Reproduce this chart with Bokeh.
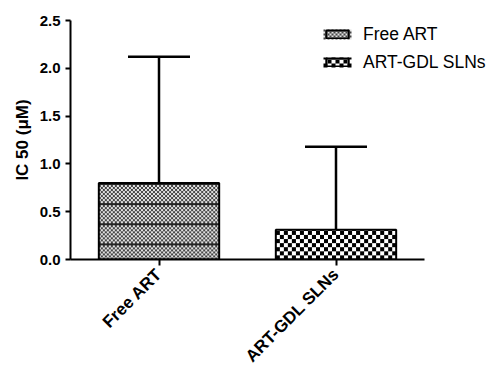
import math
import numpy as np
from bokeh.plotting import figure
from bokeh.models import (ColumnDataSource, Whisker, TeeHead, Legend, LegendItem,
                          FixedTicker, NumeralTickFormatter, Range1d)
from bokeh.embed import file_html
from bokeh.resources import INLINE

categories = ["Free ART", "ART-GDL SLNs"]
means = [0.80, 0.31]
errors = [1.32, 0.87]
y_ticks = [0.0, 0.5, 1.0, 1.5, 2.0, 2.5]

xpos = [i + 0.5 for i in range(len(categories))]
upper = [m + e for m, e in zip(means, errors)]
BAR_W = 0.68

# layout constants (pixels)
FRAME_W_PER_UNIT = 177.0
FRAME_H = 239.0
Y_MAX = 2.5
PX_Y = FRAME_H / Y_MAX


def fine_pattern(h, w, line_offset=14, line_step=20):
    img = np.zeros((h, w, 4), dtype=np.uint8)
    img[..., 3] = 255
    for b in range(h):
        for x in range(w):
            if (b - line_offset) % line_step in (0, 1):
                c = 35
            elif ((x // 2) + (b // 2)) % 2 == 0:
                c = 70
            else:
                c = 225
            img[b, x, :3] = c
    return img.view(np.uint32).reshape(h, w)


def coarse_pattern(h, w, cell=4):
    img = np.zeros((h, w, 4), dtype=np.uint8)
    img[..., 3] = 255
    for b in range(h):
        for x in range(w):
            c = 0 if ((x // cell) + (b // cell)) % 2 == 0 else 255
            img[b, x, :3] = c
    return img.view(np.uint32).reshape(h, w)


patterns = [fine_pattern, coarse_pattern]

FONT = "Liberation Sans"

p = figure(x_range=Range1d(0, 429 / FRAME_W_PER_UNIT), y_range=(0, Y_MAX),
           width=499, height=376, output_backend="svg", toolbar_location=None,
           min_border_left=70, min_border_top=20, min_border_bottom=117,
           min_border_right=0)

# textured fills of the bars
for i, (x, m) in enumerate(zip(xpos, means)):
    wpx = int(round(BAR_W * FRAME_W_PER_UNIT))
    hpx = max(1, int(round(m * PX_Y)))
    p.image_rgba(image=[patterns[i](hpx, wpx)], x=x - BAR_W / 2, y=0,
                 dw=BAR_W, dh=m)

# legend swatches (placed under the legend's glyph boxes)
LEG_X_PX = 253
LEG_BOTTOM_PX = 186
LABEL_H = 22
SPACING = 6
GLYPH_W, GLYPH_H = 28, 10
n = len(categories)
leg_h = n * LABEL_H + (n - 1) * SPACING
for i in range(n):
    row_top = leg_h - i * (LABEL_H + SPACING)  # from legend bottom
    sw_bottom = LEG_BOTTOM_PX + row_top - LABEL_H + (LABEL_H - GLYPH_H) / 2
    p.image_rgba(image=[patterns[i](GLYPH_H, GLYPH_W)],
                 x=LEG_X_PX / FRAME_W_PER_UNIT, y=sw_bottom / PX_Y,
                 dw=GLYPH_W, dh=GLYPH_H, dw_units="screen", dh_units="screen")

r1 = p.vbar(x=[xpos[0]], top=[means[0]], width=BAR_W, fill_color=None,
            line_color="black", line_width=2)
r2 = p.vbar(x=[xpos[1]], top=[means[1]], width=BAR_W, fill_color=None,
            line_color="black", line_width=2)

src = ColumnDataSource(dict(x=xpos, upper=upper, lower=means))
wh = Whisker(source=src, base="x", upper="upper", lower="lower", dimension="height",
             line_width=2.5, line_color="black",
             upper_head=TeeHead(size=62, line_width=2.5, line_color="black"),
             lower_head=None)
p.add_layout(wh)

legend = Legend(items=[LegendItem(label=categories[0], renderers=[r1]),
                       LegendItem(label=categories[1], renderers=[r2])],
                location=(LEG_X_PX, LEG_BOTTOM_PX), glyph_width=GLYPH_W,
                glyph_height=GLYPH_H, label_height=LABEL_H, spacing=SPACING,
                padding=0, margin=0, label_standoff=12, border_line_color=None,
                background_fill_alpha=0, label_text_font=FONT,
                label_text_font_size="17.5px", label_text_color="black")
p.add_layout(legend)

p.xgrid.visible = False
p.ygrid.visible = False
p.outline_line_color = None

p.yaxis.ticker = FixedTicker(ticks=y_ticks)
p.yaxis.formatter = NumeralTickFormatter(format="0.0")
p.yaxis.axis_label = "IC 50 (μM)"
p.yaxis.axis_label_text_font = FONT
p.yaxis.axis_label_text_font_style = "bold"
p.yaxis.axis_label_text_font_size = "17px"
p.yaxis.axis_label_text_color = "black"
p.yaxis.minor_tick_line_color = None

p.xaxis.ticker = FixedTicker(ticks=xpos)
p.xaxis.major_label_overrides = {x: c for x, c in zip(xpos, categories)}
p.xaxis.bounds = (0, len(categories))
p.xaxis.minor_tick_line_color = None

for ax in (p.xaxis[0], p.yaxis[0]):
    ax.axis_line_width = 2
    ax.axis_line_color = "black"
    ax.major_tick_line_width = 2
    ax.major_tick_line_color = "black"
    ax.major_tick_in = 0
    ax.major_tick_out = 6
    ax.major_label_text_font = FONT
    ax.major_label_text_font_style = "bold"
    ax.major_label_text_color = "black"

p.yaxis.major_tick_out = 5
p.yaxis.major_label_text_font_size = "15px"
p.xaxis.major_label_text_font_size = "17px"
p.xaxis.major_label_orientation = math.pi / 4
p.xaxis.major_label_standoff = 6

open("out.html", "w").write(file_html(p, INLINE))
